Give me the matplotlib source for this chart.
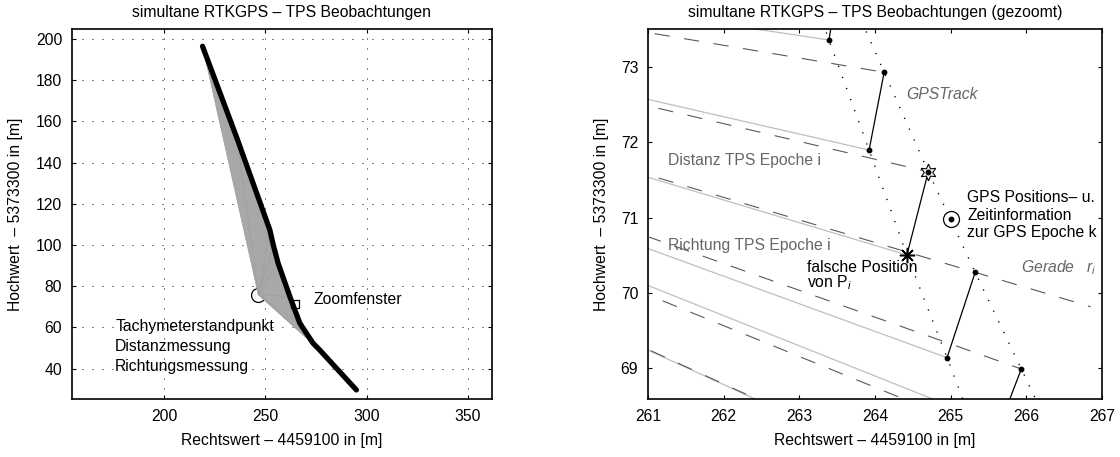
import matplotlib
matplotlib.use("Agg")
import matplotlib.pyplot as plt

plt.rcParams['font.family'] = ['Liberation Sans', 'DejaVu Sans']
plt.rcParams['mathtext.fontset'] = 'custom'
plt.rcParams['mathtext.rm'] = 'Liberation Sans'
plt.rcParams['mathtext.it'] = 'Liberation Sans:italic'
plt.rcParams['lines.scale_dashes'] = False

FS = 11.3

# Tachymeter station (local coordinates, offsets removed)
station_x = 246.5
station_y = 75.9

# GPS track overview
track_x = [219.0, 236.0, 252.2, 253.9, 256.3, 262.1, 267.0, 273.5, 276.8, 285.0, 294.9]
track_y = [196.5, 151.8, 107.3, 100.0, 91.1, 74.9, 62.0, 52.3, 49.0, 40.2, 29.6]
fan_last = 8          # TPS rays reach the track up to this vertex
zoom_x, zoom_y = 264.5, 71.4

# Zoomed section: GPS epochs k and TPS epochs i
gps_x = [263.54, 264.121, 264.704, 265.324, 265.934, 266.54, 267.15]
gps_y = [74.25, 72.926, 71.607, 70.273, 68.991, 67.71, 66.43]
tps_x = [262.89, 263.391, 263.922, 264.422, 264.952, 265.47]
tps_y = [74.80, 73.354, 71.895, 70.503, 69.141, 67.78]
# far ends of the TPS direction lines
dir_x = [263.391, 263.922, 264.422, 264.952, 265.22, 265.71]
dir_y = [73.354, 71.895, 70.503, 69.141, 68.41, 67.08]
k_star = 2            # GPS epoch k
i_wrong = 3           # wrong position of P_i
gerade_idx = 3        # GPS point the line r_i passes through
gerade_end_x = 266.85
info_x, info_y = 265.005, 70.98

fig = plt.figure(figsize=(11.2, 4.57), dpi=100)
ax1 = fig.add_axes([72/1120, 1-399/457, 420/1120, 370/457])
ax2 = fig.add_axes([648/1120, 1-399/457, 454/1120, 370/457])

title = "simultane RTKGPS \u2013 TPS Beobachtungen"
xlab = "Rechtswert \u2013 4459100 in [m]"
ylab = "Hochwert  \u2013 5373300 in [m]"

for ax in (ax1, ax2):
    ax.tick_params(direction='in', length=3.2, width=0.8, top=True, right=True,
                   labelsize=FS, pad=7)
    for s in ax.spines.values():
        s.set_linewidth(1.2)
    ax.set_xlabel(xlab, fontsize=FS)
    ax.set_ylabel(ylab, fontsize=FS)

# ---------------- overview ----------------
ax1.set_xlim(154.6, 361.8)
ax1.set_ylim(25.2, 204.9)
ax1.set_xticks([200, 250, 300, 350])
ax1.set_yticks(range(40, 201, 20))
ax1.grid(True, color='k', linestyle=(0, (0.7, 6.5)), linewidth=0.7)
ax1.set_axisbelow(True)

ax1.plot([station_x], [station_y], 'o', ms=10, mfc='none', mec='k', mew=0.9, zorder=2)
fan_px = [station_x] + track_x[:fan_last + 1]
fan_py = [station_y] + track_y[:fan_last + 1]
ax1.fill(fan_px, fan_py, color='0.66', lw=0, zorder=3)
for tx, ty in zip(track_x[:fan_last + 1], track_y[:fan_last + 1]):
    ax1.plot([station_x, tx], [station_y, ty], color='0.62', lw=0.5, zorder=3)
ax1.plot(track_x, track_y, color='k', lw=3.8, solid_capstyle='round',
         solid_joinstyle='round', zorder=4)
ax1.plot([zoom_x], [zoom_y], 's', ms=5.5, mfc='none', mec='k', mew=0.9, zorder=5)
ax1.text(273.5, 73.3, "Zoomfenster", fontsize=FS, va='center', ha='left')
ax1.text(175.9, 60.3, "Tachymeterstandpunkt", fontsize=FS, va='center', ha='left')
ax1.text(175.9, 50.6, "Distanzmessung", fontsize=FS, va='center', ha='left')
ax1.text(175.9, 40.9, "Richtungsmessung", fontsize=FS, va='center', ha='left')
ax1.set_title(title, fontsize=FS, pad=8.5)

# ---------------- zoomed view ----------------
ax2.set_xlim(261, 267)
ax2.set_ylim(68.593, 73.5)
ax2.set_xticks(range(261, 268))
ax2.set_yticks(range(69, 74))

dash = (0, (11, 10.5))
dot = (0, (0.9, 7.6))

# TPS direction lines
for dx, dy in zip(dir_x, dir_y):
    ax2.plot([station_x, dx], [station_y, dy], color='0.75', lw=0.9, zorder=2)
# lines from the station towards the GPS positions
for n, (gx, gy) in enumerate(zip(gps_x, gps_y)):
    ex, ey = gx, gy
    if n == gerade_idx:
        ex = gerade_end_x
        ey = station_y + (gy - station_y) * (ex - station_x) / (gx - station_x)
    ax2.plot([station_x, ex], [station_y, ey], color='0.35', lw=0.8,
             linestyle=dash, zorder=3)
# tracks
ax2.plot(tps_x, tps_y, color='k', lw=1.0, linestyle=dot, zorder=4)
ax2.plot(gps_x, gps_y, color='k', lw=1.0, linestyle=dot, zorder=4)
# GPS epoch k -> TPS epoch i+1
for n in range(len(gps_x) - 1):
    if n + 1 < len(tps_x):
        ax2.plot([gps_x[n], tps_x[n + 1]], [gps_y[n], tps_y[n + 1]],
                 color='k', lw=0.9, zorder=5)
ax2.plot(gps_x, gps_y, 'o', ms=3.2, color='k', zorder=6)
ax2.plot(tps_x, tps_y, 'o', ms=3.2, color='k', zorder=6)

ax2.plot([gps_x[k_star]], [gps_y[k_star]], marker=(6, 1, 0), ms=12, mfc='white',
         mec='k', mew=0.8, zorder=7)
ax2.plot([gps_x[k_star]], [gps_y[k_star]], 'o', ms=3.2, color='k', zorder=8)
ax2.plot([tps_x[i_wrong]], [tps_y[i_wrong]], marker=(8, 2, 0), ms=11, color='k',
         mew=1.1, zorder=8)
ax2.plot([info_x], [info_y], 'o', ms=11.5, mfc='white', mec='k', mew=0.9, zorder=7)
ax2.plot([info_x], [info_y], 'o', ms=3.2, color='k', zorder=8)

ax2.text(264.41, 72.625, "GPSTrack", fontsize=FS, color='0.4', style='italic',
         va='center', ha='left')
ax2.text(261.27, 71.76, "Distanz TPS Epoche i", fontsize=FS, color='0.4',
         va='center', ha='left')
ax2.text(261.27, 70.635, "Richtung TPS Epoche i", fontsize=FS, color='0.4',
         va='center', ha='left')
ax2.text(263.105, 70.222, "falsche Position\nvon P$_{i}$", fontsize=FS,
         va='center', ha='left', linespacing=0.85)
ax2.text(265.22, 71.03, "GPS Positions\u2013 u.\nZeitinformation\nzur GPS Epoche k",
         fontsize=FS, va='center', ha='left', linespacing=1.2)
ax2.text(265.93, 70.33, "Gerade   $\\mathit{r}_{i}$", fontsize=FS, color='0.4',
         style='italic', va='center', ha='left')
ax2.set_title(title + " (gezoomt)", fontsize=FS, pad=8.5)

ax1.yaxis.set_label_coords(-0.117, 0.5)
ax2.yaxis.set_label_coords(-0.086, 0.5)
ax1.xaxis.set_label_coords(0.5, -0.092)
ax2.xaxis.set_label_coords(0.5, -0.092)

fig.savefig("out.png", dpi=100)
